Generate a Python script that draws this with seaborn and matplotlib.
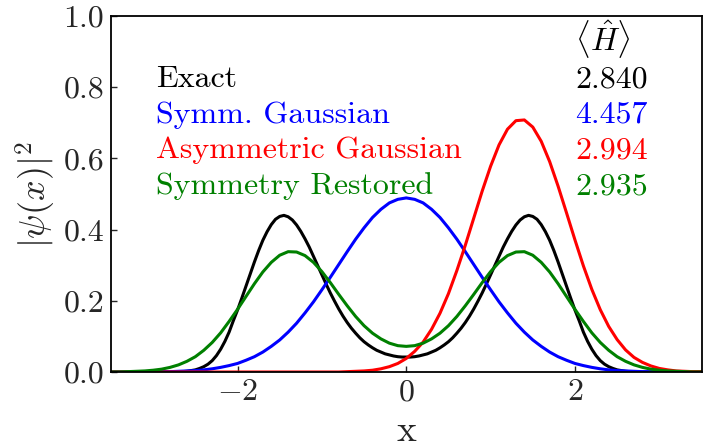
import numpy as np
import pandas as pd
import matplotlib
matplotlib.use("Agg")
import matplotlib.pyplot as plt
import seaborn as sns

# Sample positions: the exact density is tabulated on a finer grid
x_exact = np.linspace(-3.5, 3.5, 141)
x_trial = np.linspace(-3.5, 3.5, 71)

# |psi(x)|^2 of the exact ground state
exact = [0, 0, 0, 0, 0, 0, 0, 0, 0, 0, 0, 0, 0, 0, 0, 0,
         0.001, 0.001, 0.002, 0.004, 0.006, 0.010, 0.015, 0.022, 0.032, 0.046, 0.064, 0.086,
         0.112, 0.144, 0.174, 0.207, 0.241, 0.275, 0.309, 0.341, 0.370, 0.394, 0.414, 0.429,
         0.437, 0.440, 0.436, 0.427, 0.413, 0.395, 0.374, 0.351, 0.325, 0.299, 0.273, 0.247,
         0.222, 0.199, 0.177, 0.157, 0.139, 0.123, 0.109, 0.096, 0.085, 0.076, 0.068, 0.061,
         0.056, 0.051, 0.048, 0.045, 0.043, 0.042,
         0.042,
         0.042, 0.043, 0.045, 0.048, 0.051, 0.056, 0.061, 0.068, 0.076, 0.085, 0.096, 0.109,
         0.123, 0.139, 0.157, 0.177, 0.199, 0.222, 0.247, 0.273, 0.299, 0.325, 0.351, 0.374,
         0.395, 0.413, 0.427, 0.436, 0.440, 0.437, 0.429, 0.414, 0.394, 0.370, 0.341, 0.309,
         0.275, 0.241, 0.207, 0.174, 0.144, 0.112, 0.086, 0.064, 0.046, 0.032, 0.022, 0.015,
         0.010, 0.006, 0.004, 0.002, 0.001, 0.001,
         0, 0, 0, 0, 0, 0, 0, 0, 0, 0, 0, 0, 0, 0, 0, 0]

# |psi(x)|^2 of the three trial wavefunctions
symm_gauss = [0, 0, 0, 0, 0, 0.001, 0.001, 0.001, 0.002, 0.003, 0.004, 0.006, 0.009, 0.013,
              0.018, 0.024, 0.033, 0.043, 0.056, 0.072, 0.090, 0.112, 0.137, 0.166, 0.197,
              0.231, 0.266, 0.302, 0.338, 0.373, 0.405, 0.434, 0.457, 0.475, 0.485,
              0.489,
              0.485, 0.475, 0.457, 0.434, 0.405, 0.373, 0.338, 0.302, 0.266, 0.231, 0.197,
              0.166, 0.137, 0.112, 0.090, 0.072, 0.056, 0.043, 0.033, 0.024, 0.018, 0.013,
              0.009, 0.006, 0.004, 0.003, 0.002, 0.001, 0.001, 0.001, 0, 0, 0, 0, 0]
asymm_gauss = [0, 0, 0, 0, 0, 0, 0, 0, 0, 0, 0, 0, 0, 0, 0, 0, 0, 0, 0, 0, 0, 0, 0, 0, 0, 0,
               0, 0, 0.001, 0.002, 0.003, 0.005, 0.009, 0.015, 0.024, 0.038, 0.058, 0.084,
               0.120, 0.165, 0.220, 0.285, 0.356, 0.432, 0.508, 0.578, 0.638, 0.682, 0.706,
               0.708, 0.688, 0.648, 0.591, 0.522, 0.447, 0.371, 0.298, 0.232, 0.175, 0.128,
               0.091, 0.062, 0.041, 0.027, 0.017, 0.010, 0.006, 0.003, 0.002, 0.001, 0.001]
restored = [0, 0, 0.001, 0.002, 0.003, 0.005, 0.008, 0.013, 0.020, 0.030, 0.043, 0.061, 0.083,
            0.110, 0.142, 0.176, 0.212, 0.248, 0.281, 0.308, 0.328, 0.338, 0.337, 0.327,
            0.308, 0.282, 0.251, 0.218, 0.186, 0.156, 0.130, 0.109, 0.093, 0.081, 0.074,
            0.072,
            0.074, 0.081, 0.093, 0.109, 0.130, 0.156, 0.186, 0.218, 0.251, 0.282, 0.308,
            0.327, 0.337, 0.338, 0.328, 0.308, 0.281, 0.248, 0.212, 0.176, 0.142, 0.110,
            0.083, 0.061, 0.043, 0.030, 0.020, 0.013, 0.008, 0.005, 0.003, 0.002, 0.001, 0, 0]

labels = ["Exact", "Symm. Gaussian", "Asymmetric Gaussian", "Symmetry Restored"]
energies = ["2.840", "4.457", "2.994", "2.935"]
colors = ["black", "#0000ff", "#ff0000", "#008000"]
x_ticks = [-2, 0, 2]
y_ticks = [0.0, 0.2, 0.4, 0.6, 0.8, 1.0]

frames = []
for lab, xs, ys in zip(labels,
                       [x_exact, x_trial, x_trial, x_trial],
                       [exact, symm_gauss, asymm_gauss, restored]):
    frames.append(pd.DataFrame({"x": xs, "density": ys, "state": lab}))
df = pd.concat(frames, ignore_index=True)

sns.set_theme(style="white")
plt.rcParams.update({
    "font.family": "serif",
    "font.serif": ["cmr10"],
    "mathtext.fontset": "cm",
    "axes.formatter.use_mathtext": True,
    "axes.unicode_minus": True,
})

fig = plt.figure(figsize=(7.03, 4.48), dpi=100)
ax = fig.add_axes([111 / 703, 76 / 448, 590.5 / 703, 356 / 448])

sns.lineplot(data=df, x="x", y="density", hue="state", hue_order=labels,
             palette=colors, linewidth=2.2, legend=False, ax=ax, sort=True)

ax.set_xlim(-3.5, 3.5)
ax.set_ylim(0.0, 1.0)
ax.set_xticks(x_ticks)
ax.set_yticks(y_ticks)
ax.set_yticklabels([f"{t:.1f}" for t in y_ticks])
ax.tick_params(direction="in", length=4.5, width=1.0, labelsize=23, pad=5,
               top=False, right=False, bottom=True, left=True)
for s in ax.spines.values():
    s.set_linewidth(1.3)
    s.set_color("black")

ax.set_xlabel("x", fontsize=27, labelpad=6)
ax.set_ylabel(r"$|\psi(x)|^2$", fontsize=26, labelpad=4)

# Method names on the left, energy expectation values on the right
ax.text(2.0, 0.9, r"$\langle\hat{H}\rangle$", fontsize=23, color="black", va="baseline")
for i, (lab, en, col) in enumerate(zip(labels, energies, colors)):
    yy = 0.8 - 0.1 * i
    ax.text(-2.97, yy, lab, fontsize=23, color=col, va="baseline", ha="left")
    ax.text(2.0, yy, en, fontsize=23, color=col, va="baseline", ha="left")

fig.savefig("out.png", dpi=100)
